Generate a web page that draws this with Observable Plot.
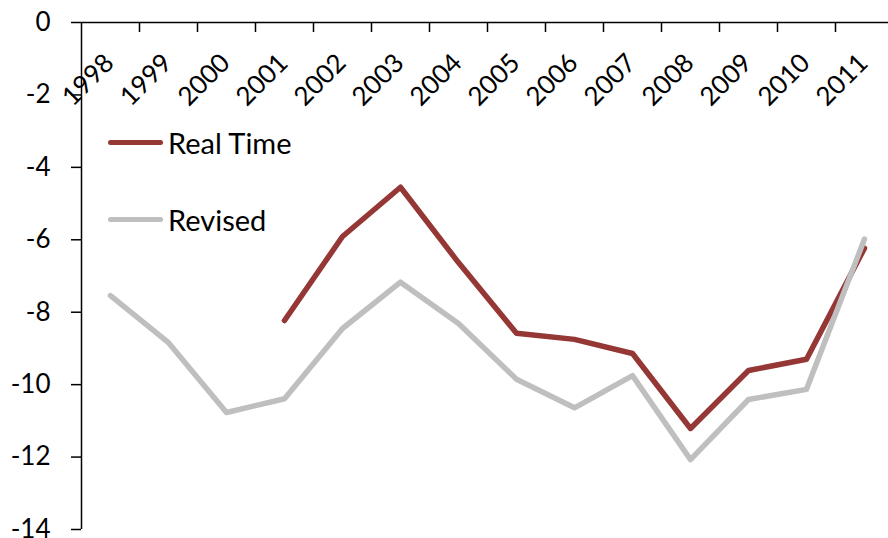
<!DOCTYPE html>
<html>
<head>
<meta charset="utf-8">
<script src="https://cdn.jsdelivr.net/npm/d3@7"></script>
<script src="https://cdn.jsdelivr.net/npm/@observablehq/plot@0.6"></script>
<style>
  html, body { margin: 0; padding: 0; background: #fff; }
  #wrap { position: relative; width: 888px; height: 538px; overflow: hidden; font-family: Lato, "Open Sans", sans-serif; }
  #legend { position: absolute; left: 108px; top: 0; }
  .item { position: absolute; left: 0; display: flex; align-items: center; white-space: nowrap; font-size: 29px; color: #000; }
  .sw { width: 55px; height: 5px; border-radius: 3px; margin-right: 5px; }
</style>
</head>
<body>
<div id="wrap">
  <div id="chart"></div>
  <div id="legend"></div>
</div>
<script>
const years = [1998, 1999, 2000, 2001, 2002, 2003, 2004, 2005, 2006, 2007, 2008, 2009, 2010, 2011];
const revised = [-7.54, -8.84, -10.77, -10.39, -8.45, -7.17, -8.31, -9.85, -10.64, -9.75, -12.07, -10.41, -10.13, -5.98];
const realTimeYears = [2001, 2002, 2003, 2004, 2005, 2006, 2007, 2008, 2009, 2010, 2011];
const realTime = [-8.23, -5.91, -4.55, -6.63, -8.58, -8.75, -9.14, -11.21, -9.61, -9.30, -6.23];
const yTicks = [0, -2, -4, -6, -8, -10, -12, -14];
const seriesNames = ["Real Time", "Revised"];
const seriesColors = ["#953735", "#BFBFBF"];

const revisedData = years.map((y, i) => ({year: y, value: revised[i]}));
const realData = realTimeYears.map((y, i) => ({year: y, value: realTime[i]}));
const boundaries = years.map(y => y + 0.5);

const W = 888, H = 538, MT = 22, MB = 9, TICK = 10;

const chart = Plot.plot({
  width: W,
  height: H,
  marginTop: MT,
  marginBottom: MB,
  marginLeft: 81,
  marginRight: 0,
  style: {fontFamily: "Lato, 'Open Sans', sans-serif", background: "white", overflow: "visible"},
  x: {domain: [years[0] - 0.5, years[years.length - 1] + 0.5], range: [81, 893], axis: null},
  y: {domain: [-14, 0], axis: null},
  marks: [
    Plot.axisY({ticks: yTicks, tickSize: 10, tickPadding: 21, tickFormat: d => String(d), fontSize: 26, label: null, stroke: "black", color: "black", strokeWidth: 1.5}),
    Plot.tickX(boundaries, {x: d => d, insetBottom: H - MT - MB - TICK, stroke: "black", strokeWidth: 1.5}),
    Plot.text(years, {x: d => d, frameAnchor: "top", dx: 5, dy: 42, rotate: -45, textAnchor: "end", lineAnchor: "bottom", fontSize: 26, fill: "black", text: d => String(d)}),
    Plot.ruleY([0], {stroke: "black", strokeWidth: 1.5}),
    Plot.ruleX([years[0] - 0.5], {stroke: "black", strokeWidth: 1.5}),
    Plot.line(realData, {x: "year", y: "value", stroke: seriesColors[0], strokeWidth: 5.5, strokeLinejoin: "round", strokeLinecap: "round"}),
    Plot.line(revisedData, {x: "year", y: "value", stroke: seriesColors[1], strokeWidth: 5.5, strokeLinejoin: "round", strokeLinecap: "round"})
  ]
});
document.getElementById("chart").appendChild(chart);

const legend = document.getElementById("legend");
const legendTops = [142, 219];
seriesNames.forEach((name, i) => {
  const item = document.createElement("div");
  item.className = "item";
  item.style.top = (legendTops[i] - 20) + "px";
  item.style.height = "40px";
  const sw = document.createElement("div");
  sw.className = "sw";
  sw.style.background = seriesColors[i];
  const label = document.createElement("span");
  label.textContent = name;
  item.appendChild(sw);
  item.appendChild(label);
  legend.appendChild(item);
});
</script>
</body>
</html>
